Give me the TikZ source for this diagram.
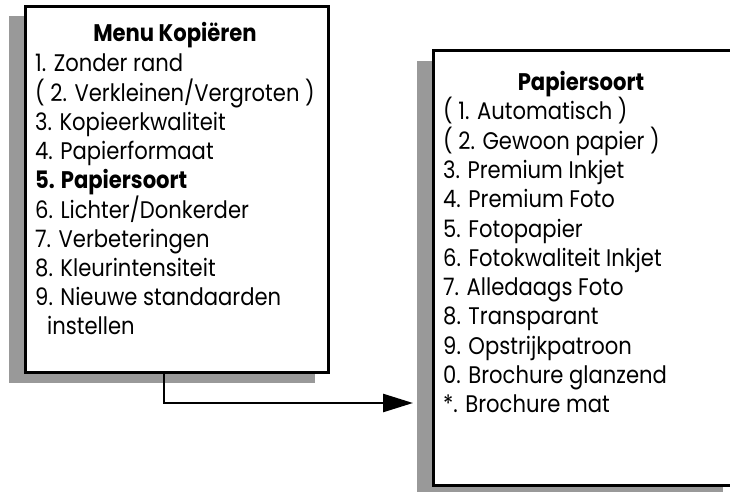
\documentclass[tikz,border=0pt]{standalone}
\usepackage{fontspec}
\setmainfont{Poppins}[FakeStretch=0.88]
\usetikzlibrary{arrows.meta}
\definecolor{shadowgray}{RGB}{153,153,153}
\begin{document}
\begin{tikzpicture}[x=1pt,y=-1pt,
  panel/.style={draw=black,line width=3pt,fill=white,anchor=north west,inner sep=0pt},
  shadow/.style={fill=shadowgray,anchor=north west,inner sep=0pt},
  itemtext/.style={anchor=base west,inner sep=0pt,font=\fontsize{24}{29}\selectfont},
  headtext/.style={anchor=base,inner sep=0pt,font=\fontsize{24}{29}\selectfont\bfseries},
  link/.style={line width=2.6pt,-{Triangle[length=30pt,width=18pt]}}]
\clip (0,0) rectangle (730,492);
% shadows
\node[shadow,minimum width=306pt,minimum height=367pt] (menushadow) at (9,16) {};
\node[shadow,minimum width=306pt,minimum height=432pt] (papiershadow) at (417,61) {};
% panels
\node[panel,minimum width=303pt,minimum height=365pt] (menu) at (23.5,5.5) {};
\node[panel,minimum width=310pt,minimum height=434pt] (papier) at (431.5,49.5) {};
% menu text
\node[headtext] (menuhead) at (175,42) {Menu Kopiëren};
\foreach \t [count=\i] in {1. Zonder rand,( 2. Verkleinen/Vergroten ),3. Kopieerkwaliteit,4. Papierformaat,{\bfseries 5. Papiersoort},6. Lichter/Donkerder,7. Verbeteringen,8. Kleurintensiteit,9. Nieuwe standaarden}
  \node[itemtext] (m\i) at (35,{72+(\i-1)*29.2}) {\t};
\node[itemtext] (m10) at (47,334.8) {instellen};
% papier text
\node[headtext] (papierhead) at (581,91) {Papiersoort};
\foreach \t [count=\i] in {( 1. Automatisch ),( 2. Gewoon papier ),3. Premium Inkjet,4. Premium Foto,5. Fotopapier,6. Fotokwaliteit Inkjet,7. Alledaags Foto,8. Transparant,9. Opstrijkpatroon,0. Brochure glanzend,*. Brochure mat}
  \node[itemtext] (p\i) at (443,{120+(\i-1)*29.25}) {\t};
% connector
\coordinate (bend) at (164,403);
\coordinate (tip) at (413,403);
\draw[link] (menu.south -| bend) |- (tip);
\end{tikzpicture}
\end{document}
